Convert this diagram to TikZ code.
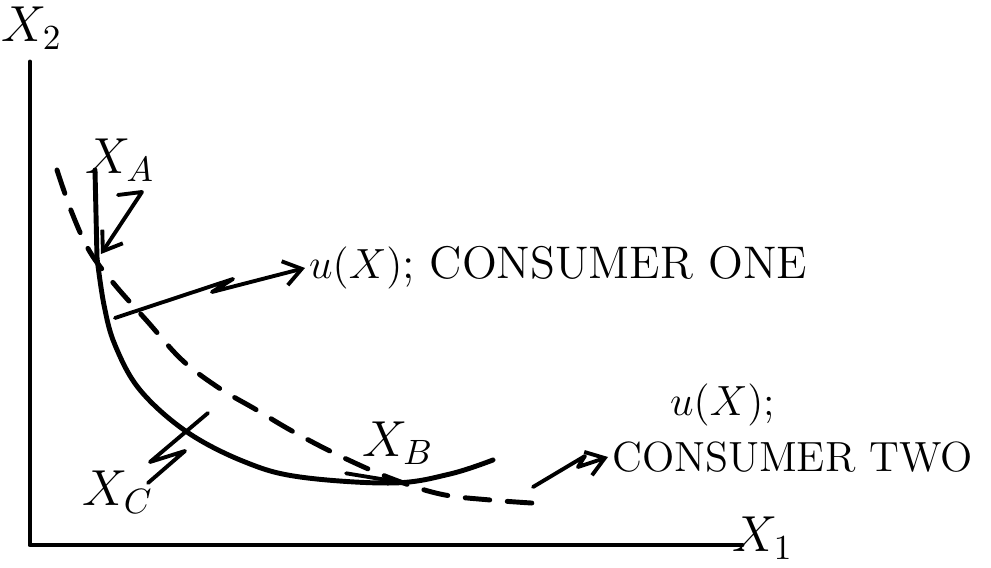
\documentclass[tikz,border=0pt]{standalone}
\usetikzlibrary{arrows.meta}
\tikzset{
    curve/.style={line width=1.4pt, line cap=round, line join=round},
    pointer/.style={line width=1.1pt, line cap=round, line join=round},
    barb/.style={-{Straight Barb[length=5pt, width=7pt]}},
    lbl/.style={inner sep=1pt, font=\fontsize{13}{15}\selectfont},
}
\begin{document}
\begin{tikzpicture}[x=0.01cm, y=-0.01cm]
    \useasboundingbox (0,0) rectangle (991,568);

    % Axes
    \draw[curve] (30,62) -- (30,545) -- (742,545);
    \node[lbl, font=\Large] (xtwo) at (32,28) {$X_2$};
    \node[lbl, font=\Large] (xone) at (763,538) {$X_1$};

    % Consumer one: kinked curve
    \coordinate (kink) at (97,258);
    \draw[curve] (95,170) -- (kink);
    \draw[curve] plot[smooth, tension=0.6] coordinates {(97,258) (104,305) (115,345) (140,390) (187,432) (245,462) (300,477) (393,483) (450,474) (493,460)};

    % Consumer two: dashed curve
    \draw[curve, dash pattern=on 7pt off 5pt] plot[smooth, tension=0.6] coordinates {(57,170) (72,213) (90,252) (115,285) (147,321) (182,360) (219,388) (255,409) (292,431) (338,455) (390,478) (440,494) (490,500) (547,504)};

    % x_A
    \node[lbl, font=\Large] (xa) at (120,160) {$X_A$};
    \coordinate (pa) at (118,195);
    \coordinate (kinka) at (101,254);
    \draw[pointer, barb] (pa) -- (142,192) -- (kinka);

    % x_B
    \node[lbl, font=\Large] (xb) at (398,443) {$X_B$};
    \coordinate (minb) at (393,481);
    \draw[pointer] (xb.south west) ++(-12,5) -- (minb);

    % x_C
    \node[lbl, font=\Large] (xc) at (118,492) {$X_C$};
    \coordinate (pcs) at (148,483);
    \coordinate (pc) at (208,413);
    \draw[pointer] (pcs) -- (185,451) -- (150,462) -- (pc);

    % Labels of the two curves
    \coordinate (oneon) at (115,318);
    \node[lbl, anchor=west] (labone) at (305,268) {$u(X)$; CONSUMER ONE};
    \draw[pointer, barb] (oneon) -- (233,279) -- (212,292) -- (labone.west);

    \coordinate (twoon) at (533,487);
    \node[lbl, anchor=west, font=\fontsize{12}{14}\selectfont] (labtwoa) at (666,405) {$u(X)$;};
    \node[lbl, anchor=west, font=\fontsize{12}{14}\selectfont] (labtwo) at (608,457) {CONSUMER TWO};
    \draw[pointer, barb] (twoon) -- (585,456) -- (578,467) -- (labtwo.west);
\end{tikzpicture}
\end{document}
